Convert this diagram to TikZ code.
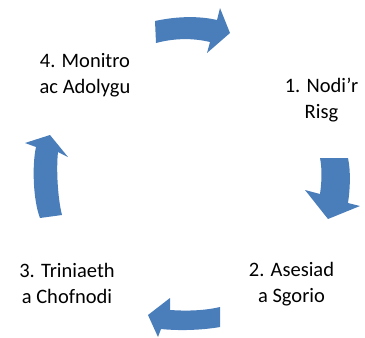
\documentclass[tikz,border=0pt]{standalone}
\usepackage{fontspec}
\setmainfont{Carlito}
\definecolor{arrowblue}{RGB}{74,126,187}
\begin{document}
\begin{tikzpicture}[x=1pt,y=-1pt,
  blockarrow/.style={fill=arrowblue},
  steplabel/.style={font=\fontsize{20.5}{26}\selectfont, align=center, anchor=base, inner sep=0pt}]
\useasboundingbox (0,0) rectangle (365,338);
% top arrow (pointing right)
\fill[blockarrow] (155,21) .. controls (178,16) and (200,16) .. (217,20)
  -- (220,8) -- (230,33) -- (207,53) -- (210,42)
  .. controls (193,38) and (175,38) .. (156,43) -- cycle;
% right arrow (pointing down)
\fill[blockarrow] (320,158) -- (348,158) .. controls (351,172) and (350,190) .. (348,203)
  -- (360,206) -- (328,219) -- (305,190) -- (320,194)
  .. controls (322,180) and (322,168) .. (320,158) -- cycle;
% bottom arrow (pointing left)
\fill[blockarrow] (220,307) .. controls (203,311) and (185,311) .. (170,310)
  -- (170,298) -- (148,315) -- (158,337) -- (161,329)
  .. controls (180,331) and (203,330) .. (220,327) -- cycle;
% left arrow (pointing up)
\fill[blockarrow] (40,218) .. controls (33,200) and (32,165) .. (36,147)
  -- (25,143) -- (50,135) -- (68,157) -- (58,152)
  .. controls (56,170) and (58,200) .. (62,215) -- cycle;
% labels (base anchor = baseline of last line)
\node[steplabel] (s1) at (321.5,118) {1. Nodi’r\\Risg};
\node[steplabel] (s2) at (291.5,302) {2. Asesiad\\a Sgorio};
\node[steplabel] (s3) at (67,303) {3. Triniaeth\\a Chofnodi};
\node[steplabel] (s4) at (85,93) {4. Monitro\\ac Adolygu};
\end{tikzpicture}
\end{document}
